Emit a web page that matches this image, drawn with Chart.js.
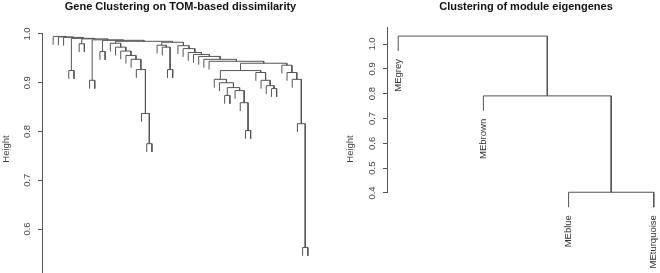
<!DOCTYPE html>
<html>
<head>
<meta charset="utf-8">
<script src="https://cdn.jsdelivr.net/npm/chart.js@4"></script>
<style>
  html, body { margin: 0; padding: 0; background: #fff; width: 660px; height: 273px; overflow: hidden; position: relative; }
  canvas { position: absolute; top: 0; }
  #gene { left: 0; }
  #me { left: 330px; }
</style>
</head>
<body>
<canvas id="gene" width="330" height="280"></canvas>
<canvas id="me" width="334" height="273"></canvas>
<script>
// hclust-style trees: negative id = leaf (plot order), positive id = earlier merge row
const geneMerge = [
  [-49, -50], [-19, -20], [-18, 2], [-38, -39], [-48, 1],
  [-37, 4], [-34, -35], [-36, 6], [7, 8], [-33, 9],
  [-32, 10], [-43, -44], [-42, 12], [-41, 13], [-40, 14],
  [11, 15], [-47, 5], [-46, 17], [-45, 18], [16, 19],
  [-31, 20], [-30, 21], [-29, 22], [-28, 23], [-27, 24],
  [-26, 25], [-25, 26], [-23, -24], [-22, 28], [-21, 29],
  [-17, 3], [-16, 31], [-15, 32], [-14, 33], [-13, 34],
  [-12, 35], [-10, -11], [-8, -9], [-6, -7], [-4, -5],
  [30, 27], [36, 41], [37, 42], [38, 43], [39, 44],
  [40, 45], [-3, 46], [-2, 47], [-1, 48]
];
const geneHeight = [
  0.562, 0.775, 0.837, 0.802, 0.816,
  0.859, 0.874, 0.884, 0.890, 0.900,
  0.907, 0.888, 0.894, 0.905, 0.921,
  0.925, 0.907, 0.921, 0.936, 0.940,
  0.944, 0.948, 0.954, 0.958, 0.962,
  0.970, 0.976, 0.927, 0.973, 0.977,
  0.927, 0.948, 0.956, 0.965, 0.973,
  0.981, 0.964, 0.905, 0.980, 0.925,
  0.983, 0.985, 0.987, 0.988, 0.990,
  0.991, 0.993, 0.994, 0.995
];
const geneLeafCount = 50;
const geneHang = 0.017;
const geneTicks = [0.6, 0.7, 0.8, 0.9, 1.0];

const meLabels = ["MEgrey", "MEbrown", "MEblue", "MEturquoise"];
const meMerge = [[-3, -4], [-2, 1], [-1, 2]];
const meHeight = [0.403, 0.791, 1.032];
const meHang = 0.06;
const meTicks = [0.4, 0.5, 0.6, 0.7, 0.8, 0.9, 1.0];

const LINE = "#555";
const TEXT = "#444";
const FONT = "'Liberation Sans', Arial, sans-serif";

// turn merge rows into U-shaped segments, gaps between them
function dendro(merge, height, hang) {
  const pos = [];
  const pts = [];
  const leafEnd = {};
  merge.forEach(([a, b], i) => {
    const h = height[i];
    const side = (id) => {
      if (id < 0) {
        leafEnd[-id] = h - hang;
        return { x: -id, y: h - hang };
      }
      return { x: pos[id - 1], y: height[id - 1] };
    };
    const A = side(a), B = side(b);
    pts.push({ x: A.x, y: A.y }, { x: A.x, y: h }, { x: B.x, y: h }, { x: B.x, y: B.y }, { x: B.x, y: null });
    pos[i] = (A.x + B.x) / 2;
  });
  return { pts, leafEnd };
}

// R-like axis line (tick range only) and hanging leaf labels
const rExtras = {
  id: "rExtras",
  afterDraw(chart, args, opts) {
    const { ctx } = chart;
    const ys = chart.scales.y, xs = chart.scales.x;
    ctx.save();
    ctx.strokeStyle = LINE;
    ctx.lineWidth = 1;
    const ax = Math.round(ys.right) - 0.5;
    ctx.beginPath();
    ctx.moveTo(ax, ys.getPixelForValue(opts.from));
    ctx.lineTo(ax, ys.getPixelForValue(opts.to));
    ctx.stroke();
    if (opts.labels) {
      ctx.fillStyle = "#333";
      ctx.font = "9.5px " + FONT;
      ctx.textAlign = "right";
      ctx.textBaseline = "middle";
      opts.labels.forEach((lab, i) => {
        const px = xs.getPixelForValue(i + 1);
        const py = ys.getPixelForValue(opts.leafEnd[i + 1]) + 8;
        ctx.save();
        ctx.translate(px, py);
        ctx.rotate(-Math.PI / 2);
        ctx.fillText(lab, 0, 0);
        ctx.restore();
      });
    }
    ctx.restore();
  }
};

function makeChart(id, cfg) {
  const tree = dendro(cfg.merge, cfg.height, cfg.hang);
  return new Chart(document.getElementById(id), {
    type: "line",
    data: {
      datasets: [{
        data: tree.pts,
        borderColor: LINE,
        borderWidth: 1,
        pointRadius: 0,
        tension: 0,
        fill: false,
        spanGaps: false,
        clip: false
      }]
    },
    options: {
      responsive: false,
      animation: false,
      layout: { autoPadding: false, padding: { left: 0, right: cfg.padRight, top: 0, bottom: 2 } },
      plugins: {
        legend: { display: false },
        tooltip: { enabled: false },
        title: {
          display: true,
          text: cfg.title,
          fullSize: false,
          color: "#111",
          font: { family: FONT, size: 11, weight: "bold" },
          padding: { top: 0, bottom: cfg.titleGap }
        },
        rExtras: { from: cfg.axisBottom, to: cfg.axisTop, labels: cfg.labels, leafEnd: tree.leafEnd }
      },
      scales: {
        x: { type: "linear", display: false, min: cfg.xMin, max: cfg.xMax },
        y: {
          min: cfg.yMin,
          max: cfg.yMax,
          afterBuildTicks: (s) => { s.ticks = cfg.ticks.map((v) => ({ value: v })); },
          afterFit: (s) => {
            s.width = cfg.axisWidth;
            s.paddingTop = 0;
            s.paddingBottom = 0;
            s.paddingLeft = 0;
            s.paddingRight = 0;
          },
          border: { display: false },
          grid: { drawOnChartArea: false, drawTicks: true, tickLength: 5, color: LINE },
          ticks: {
            autoSkip: false,
            minRotation: 90,
            maxRotation: 90,
            crossAlign: "center",
            padding: 4,
            color: TEXT,
            font: { family: FONT, size: 9.5 },
            callback: (v) => Number(v).toFixed(1)
          },
          title: {
            display: true,
            text: "Height",
            color: TEXT,
            font: { family: FONT, size: 9.5 },
            padding: { top: cfg.heightPad, bottom: 0 }
          }
        }
      }
    },
    plugins: [rExtras]
  });
}

makeChart("gene", {
  merge: geneMerge, height: geneHeight, hang: geneHang, ticks: geneTicks,
  title: "Gene Clustering on TOM-based dissimilarity",
  xMin: -0.96, xMax: geneLeafCount + 1.96,
  yMin: 0.4995, yMax: 1.0287, axisBottom: 0.4995, axisTop: 1.0,
  axisWidth: 43, padRight: 12, titleGap: 6.8, heightPad: 1, labels: null
});

makeChart("me", {
  merge: meMerge, height: meHeight, hang: meHang, ticks: meTicks,
  title: "Clustering of module eigengenes",
  xMin: 0.88, xMax: meLabels.length + 0.12,
  yMin: 0.0858, yMax: 1.0685, axisBottom: 0.4, axisTop: 1.0685,
  axisWidth: 58, padRight: 0, titleGap: 13.8, heightPad: 15, labels: meLabels
});
</script>
</body>
</html>
